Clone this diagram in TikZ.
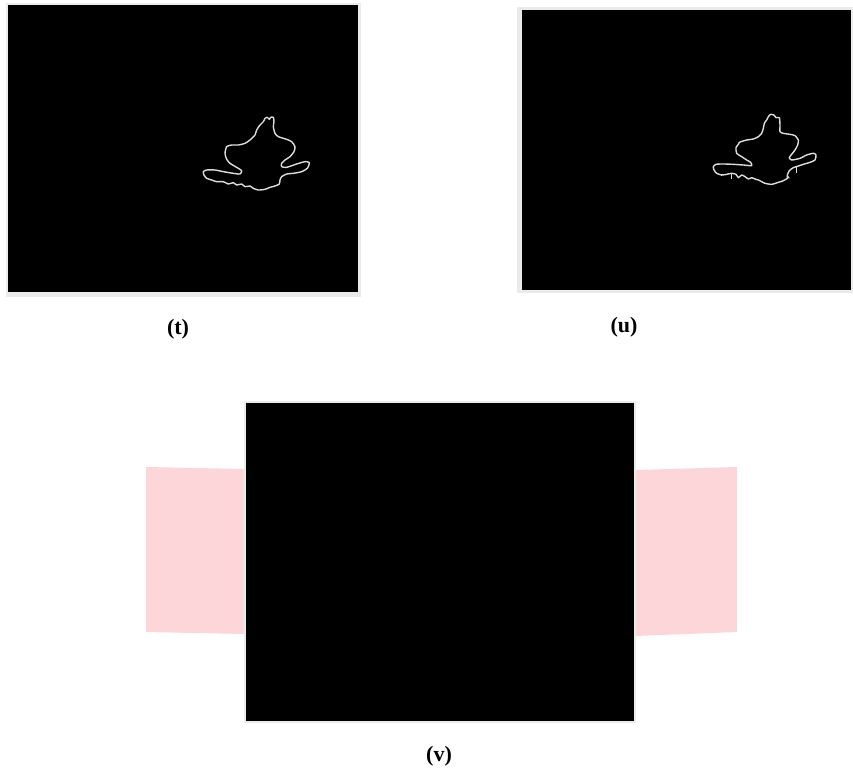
\documentclass[tikz,border=0pt]{standalone}
\usepackage{fontspec}
\setmainfont{Liberation Serif}
\definecolor{framegray}{RGB}{235,235,235}
\definecolor{pinkpanel}{RGB}{253,214,218}
\definecolor{contour}{RGB}{220,220,220}
\tikzset{
  lbl/.style={font=\fontsize{22}{24}\selectfont\bfseries, inner sep=0pt},
  outline/.style={draw=contour, line width=1.4pt, line join=round},
  tick/.style={draw=contour, line width=1pt}
}
\begin{document}
\begin{tikzpicture}[x=1pt,y=-1pt]
\useasboundingbox (0,0) rectangle (853,772);
\fill[white] (0,0) rectangle (853,772);
% panel t
\fill[framegray] (6,3) rectangle (361,297);
\fill[black] (8,5) rectangle (358,292);
\begin{scope}[shift={(190,110)}, scale=0.3333]
\draw[outline] plot[smooth, tension=0.4] coordinates {
(225,25) (232,22) (238,28) (242,22) (250,22) (252,35) (250,50) (255,70) (265,80) (290,88) (305,95) (315,110) (312,125) (300,140) (285,150) (275,160) (275,170) (290,172) (320,162) (345,155) (358,158) (352,175) (335,185) (310,190) (290,192) (275,200) (270,210) (268,222) (255,228) (240,232) (225,238) (205,240) (190,235) (180,228) (165,230) (155,222) (140,225) (130,218) (115,222) (100,215) (80,215) (65,210) (50,205) (42,195) (40,185) (50,180) (75,180) (100,185) (130,190) (150,192) (155,182) (140,172) (120,160) (110,148) (105,130) (110,110) (125,105) (145,105) (165,100) (180,90) (195,75) (200,60) (210,45) (220,35) (225,25)};
\end{scope}
\node[lbl] (labt) at (178,329) {(t)};
% panel u
\fill[framegray] (517,7) rectangle (853,293);
\fill[black] (522,10) rectangle (851,290);
\begin{scope}[shift={(700,105)}, scale=0.3333]
\draw[outline] plot[smooth, tension=0.4] coordinates {
(212,28) (222,30) (228,38) (238,38) (240,60) (240,80) (250,85) (270,88) (285,92) (295,105) (293,120) (285,135) (275,148) (268,158) (275,165) (300,160) (320,150) (340,145) (348,150) (345,165) (330,172) (310,178) (295,183) (280,188) (268,197) (262,210) (262,220) (248,228) (235,232) (215,238) (195,235) (185,230) (175,225) (165,222) (155,218) (145,222) (135,215) (125,210) (115,218) (108,208) (95,205) (80,208) (65,210) (50,205) (42,195) (40,185) (48,178) (70,177) (100,178) (130,180) (155,182) (152,172) (140,165) (125,155) (110,145) (108,128) (115,118) (118,112) (140,105) (160,102) (175,95) (185,85) (190,70) (193,55) (200,45) (205,35) (212,28)};
\draw[tick] (95,205) -- (95,222);
\draw[tick] (290,185) -- (290,203);
\draw[tick] (65,210) -- (65,214);
\draw[tick] (262,212) -- (268,220);
\end{scope}
\node[lbl] (labu) at (624,327) {(u)};
% panel v
\fill[pinkpanel] (146,467) -- (246,469) -- (246,634) -- (146,632) -- cycle;
\fill[pinkpanel] (635,470) -- (737,467) -- (737,632) -- (635,636) -- cycle;
\fill[framegray] (244,401) rectangle (636,723);
\fill[black] (246,403) rectangle (634,721);
\node[lbl] (labv) at (439,756) {(v)};
\end{tikzpicture}
\end{document}
